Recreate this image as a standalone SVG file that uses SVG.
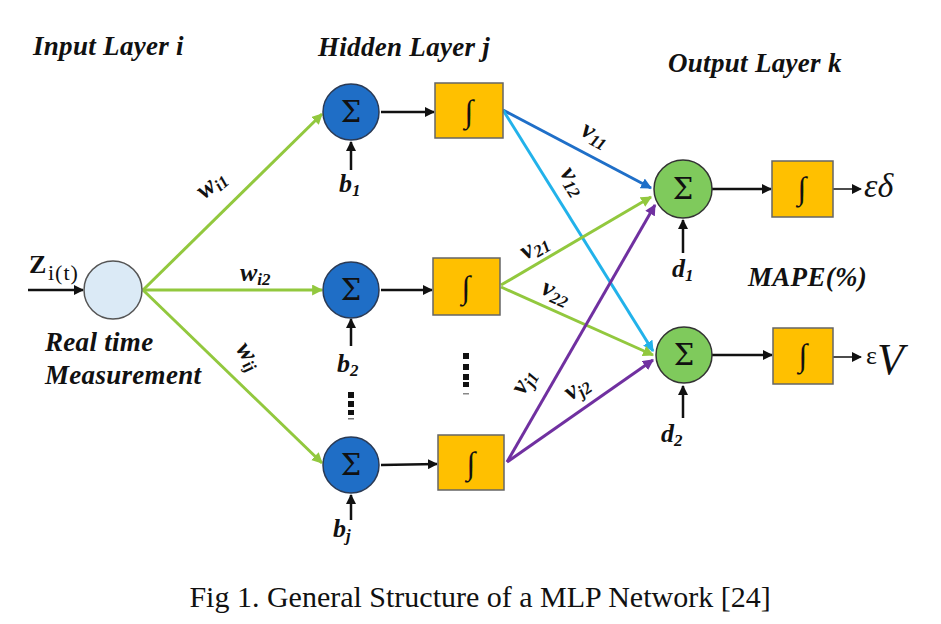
<svg xmlns="http://www.w3.org/2000/svg" width="941" height="624" viewBox="0 0 941 624">
<defs>
<style>
.title{font-family:"Liberation Serif",serif;font-weight:bold;font-style:italic;font-size:27px;letter-spacing:0.3px;fill:#111;}
.sig{font-family:"DejaVu Serif","Liberation Serif",serif;font-size:29px;fill:#111;text-anchor:middle;}
.int{font-family:"Liberation Serif",serif;font-style:italic;font-size:32px;fill:#111;text-anchor:middle;}
.lab{font-family:"Liberation Serif",serif;font-style:italic;font-weight:bold;font-size:26px;fill:#111;}
.sub{font-size:17px;}
.hid{fill:#1f6ec6;stroke:#2a3a55;stroke-width:1.5;}
.out{fill:#7fca5c;stroke:#333;stroke-width:1.5;}
.box{fill:#ffc000;stroke:#666;stroke-width:1.5;}
.k{stroke:#111;stroke-width:2.5;fill:none;}
.g{stroke:#92c83e;stroke-width:3;fill:none;}
.db{stroke:#1f6fc8;stroke-width:3;fill:none;}
.lb{stroke:#22b2ea;stroke-width:3;fill:none;}
.pu{stroke:#7030a0;stroke-width:3;fill:none;}
</style>
<marker id="ak" viewBox="0 0 10 10" refX="9" refY="5" markerWidth="10" markerHeight="10" markerUnits="userSpaceOnUse" orient="auto"><path d="M0,0 L10,5 L0,10 z" fill="#111"/></marker>
<marker id="ag" viewBox="0 0 10 10" refX="9" refY="5" markerWidth="11" markerHeight="11" markerUnits="userSpaceOnUse" orient="auto"><path d="M0,0 L10,5 L0,10 z" fill="#92c83e"/></marker>
<marker id="adb" viewBox="0 0 10 10" refX="9" refY="5" markerWidth="11" markerHeight="11" markerUnits="userSpaceOnUse" orient="auto"><path d="M0,0 L10,5 L0,10 z" fill="#1f6fc8"/></marker>
<marker id="alb" viewBox="0 0 10 10" refX="9" refY="5" markerWidth="11" markerHeight="11" markerUnits="userSpaceOnUse" orient="auto"><path d="M0,0 L10,5 L0,10 z" fill="#22b2ea"/></marker>
<marker id="apu" viewBox="0 0 10 10" refX="9" refY="5" markerWidth="11" markerHeight="11" markerUnits="userSpaceOnUse" orient="auto"><path d="M0,0 L10,5 L0,10 z" fill="#7030a0"/></marker>
</defs>
<rect width="941" height="624" fill="#fff"/>

<text class="title" x="33" y="55">Input Layer i</text>
<text class="title" x="318" y="56">Hidden Layer j</text>
<text class="title" x="668" y="72">Output Layer k</text>
<text class="title" x="748" y="286">MAPE(%)</text>
<text class="title" x="45" y="351">Real time</text>
<text class="title" x="45" y="384">Measurement</text>

<g id="connectors">
<line class="k" x1="28" y1="290" x2="83" y2="290" marker-end="url(#ak)"/>
<line class="g" x1="143" y1="290" x2="322" y2="114" marker-end="url(#ag)"/>
<line class="g" x1="143" y1="290" x2="322" y2="290" marker-end="url(#ag)"/>
<line class="g" x1="143" y1="290" x2="322" y2="463" marker-end="url(#ag)"/>
<line class="k" x1="381" y1="112" x2="434" y2="112" marker-end="url(#ak)"/>
<line class="k" x1="381" y1="290" x2="432" y2="290" marker-end="url(#ak)"/>
<line class="k" x1="381" y1="465" x2="437" y2="464" marker-end="url(#ak)"/>
<line class="k" x1="351" y1="170" x2="351" y2="142" marker-end="url(#ak)"/>
<line class="k" x1="351" y1="346" x2="351" y2="319" marker-end="url(#ak)"/>
<line class="k" x1="351" y1="520" x2="351" y2="495" marker-end="url(#ak)"/>
<line class="db" x1="503" y1="110" x2="651" y2="188" marker-end="url(#adb)"/>
<line class="lb" x1="503" y1="110" x2="653" y2="351" marker-end="url(#alb)"/>
<line class="g" x1="501" y1="285" x2="651" y2="197" marker-end="url(#ag)"/>
<line class="g" x1="501" y1="287" x2="653" y2="355" marker-end="url(#ag)"/>
<line class="pu" x1="507" y1="462" x2="655" y2="205" marker-end="url(#apu)"/>
<line class="pu" x1="507" y1="462" x2="653" y2="360" marker-end="url(#apu)"/>
<line class="k" x1="712" y1="189" x2="771" y2="189" marker-end="url(#ak)"/>
<line class="k" x1="712" y1="355" x2="772" y2="355" marker-end="url(#ak)"/>
<line class="k" x1="683" y1="253" x2="683" y2="220" marker-end="url(#ak)"/>
<line class="k" x1="683" y1="418" x2="683" y2="386" marker-end="url(#ak)"/>
<line stroke="#111" stroke-width="1.5" x1="833" y1="189" x2="861" y2="189" marker-end="url(#ak)"/>
<line stroke="#111" stroke-width="1.5" x1="833" y1="357" x2="861" y2="357" marker-end="url(#ak)"/>
</g>

<g id="weights">
<text class="lab" transform="translate(216,190) rotate(-40)" text-anchor="middle">w<tspan class="sub" dy="4">i1</tspan></text>
<text class="lab" x="240" y="281">w<tspan class="sub" dy="4">i2</tspan></text>
<text class="lab" transform="translate(243,360) rotate(55)" text-anchor="middle">w<tspan class="sub" dy="4">ij</tspan></text>
<text class="lab" transform="translate(592,141) rotate(28)" text-anchor="middle">v<tspan class="sub" dy="4">11</tspan></text>
<text class="lab" transform="translate(567,185) rotate(58)" text-anchor="middle">v<tspan class="sub" dy="4">12</tspan></text>
<text class="lab" transform="translate(538,253) rotate(-31)" text-anchor="middle">v<tspan class="sub" dy="4">21</tspan></text>
<text class="lab" transform="translate(553,299) rotate(24)" text-anchor="middle">v<tspan class="sub" dy="4">22</tspan></text>
<text class="lab" transform="translate(530,385) rotate(-60)" text-anchor="middle">v<tspan class="sub" dy="4">j1</tspan></text>
<text class="lab" transform="translate(581,394) rotate(-35)" text-anchor="middle">v<tspan class="sub" dy="4">j2</tspan></text>
</g>

<g id="input">
<circle cx="113" cy="290" r="29" fill="#dbeaf6" stroke="#555" stroke-width="1.5"/>
<text x="29" y="273" font-family="Liberation Serif,serif" font-weight="bold" font-size="26" fill="#111">Z</text>
<text x="48" y="280" font-family="Liberation Serif,serif" font-size="22" letter-spacing="1" fill="#111">i(t)</text>
</g>

<g id="h1">
<circle class="hid" cx="351" cy="112" r="28"/>
<text class="sig" x="351" y="122">Σ</text>
<text class="lab" x="339" y="192">b<tspan class="sub" dy="4">1</tspan></text>
</g>
<g id="h2">
<circle class="hid" cx="351" cy="290" r="28"/>
<text class="sig" x="351" y="300">Σ</text>
<text class="lab" x="337" y="372">b<tspan class="sub" dy="4">2</tspan></text>
</g>
<g id="h3">
<circle class="hid" cx="351" cy="465" r="28"/>
<text class="sig" x="351" y="475">Σ</text>
<text class="lab" x="333" y="537">b<tspan class="sub" dy="4">j</tspan></text>
</g>

<g id="dots">
<rect x="348" y="392" width="6" height="6" fill="#111"/>
<rect x="348" y="401" width="6" height="6" fill="#111"/>
<rect x="348" y="410" width="6" height="5" fill="#111"/>
<rect x="348" y="418" width="6" height="1.5" fill="#777"/>
<rect x="463" y="353" width="6" height="6" fill="#111"/>
<rect x="463" y="364" width="6" height="6" fill="#111"/>
<rect x="463" y="374" width="6" height="6" fill="#111"/>
<rect x="463" y="382" width="6" height="5" fill="#111"/>
<rect x="463" y="393" width="6" height="1.5" fill="#888"/>
</g>

<g id="f1"><rect class="box" x="435" y="83" width="68" height="55"/><text class="int" x="469" y="122">∫</text></g>
<g id="f2"><rect class="box" x="433" y="258" width="67" height="57"/><text class="int" x="466" y="298">∫</text></g>
<g id="f3"><rect class="box" x="438" y="435" width="66" height="55"/><text class="int" x="471" y="474">∫</text></g>

<g id="o1">
<circle class="out" cx="683" cy="189" r="29"/>
<text class="sig" x="683" y="199">Σ</text>
<text class="lab" x="672" y="277">d<tspan class="sub" dy="4">1</tspan></text>
</g>
<g id="o2">
<circle class="out" cx="684" cy="355" r="28"/>
<text class="sig" x="684" y="365">Σ</text>
<text class="lab" x="661" y="442">d<tspan class="sub" dy="4">2</tspan></text>
</g>

<g id="g1"><rect class="box" x="772" y="161" width="61" height="56"/><text class="int" x="802" y="199">∫</text></g>
<g id="g2"><rect class="box" x="773" y="328" width="60" height="56"/><text class="int" x="803" y="366">∫</text></g>

<text x="864" y="197" font-family="Liberation Serif,serif" font-style="italic" font-size="34" fill="#111">εδ</text>
<text x="866" y="364" font-family="Liberation Serif,serif" font-size="26" fill="#111">ε<tspan font-style="italic" font-size="44" dy="10">V</tspan></text>

<text x="480" y="607" text-anchor="middle" font-family="Liberation Serif,serif" font-size="30" fill="#111">Fig 1. General Structure of a MLP Network [24]</text>
</svg>
